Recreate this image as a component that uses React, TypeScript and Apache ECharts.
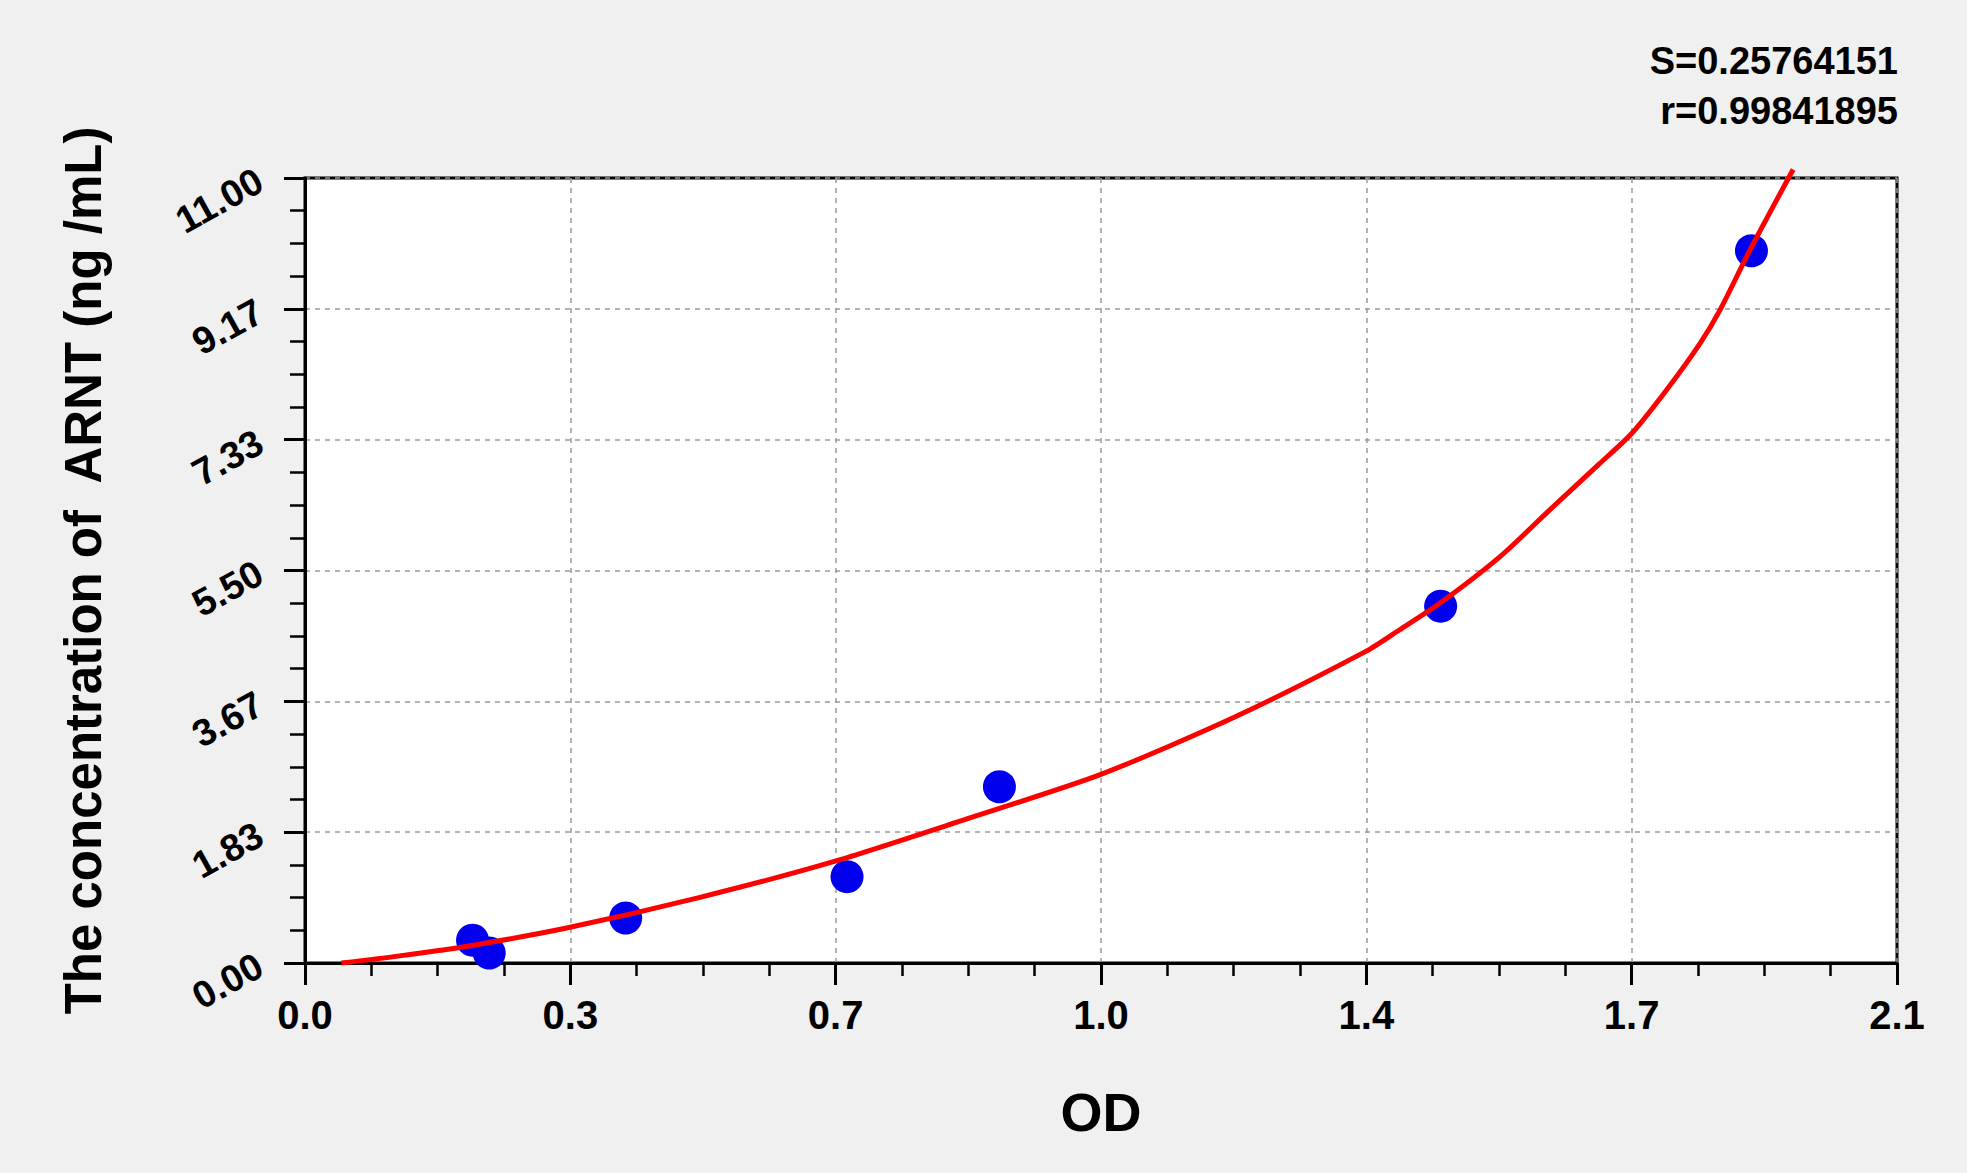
import { useEffect, useRef } from "react";
import * as echarts from "echarts";

// standard points (OD, concentration)
const pointOD = [0.221, 0.243, 0.423, 0.715, 0.916, 1.498, 1.908];
const pointConc = [0.32, 0.14, 0.63, 1.21, 2.47, 5.0, 9.98];

// fitted curve
const curveOD = [0.048, 0.125, 0.222, 0.345, 0.521, 0.697, 0.873, 1.049, 1.225, 1.4, 1.444, 1.497, 1.576, 1.642, 1.708, 1.75, 1.796, 1.84, 1.867, 1.906, 1.963];
const curveConc = [0.0, 0.1, 0.25, 0.49, 0.92, 1.42, 2.02, 2.64, 3.44, 4.37, 4.67, 5.04, 5.69, 6.35, 7.0, 7.42, 8.03, 8.68, 9.16, 9.99, 11.12];

const xTickLabels = ["0.0", "0.3", "0.7", "1.0", "1.4", "1.7", "2.1"];
const yTickLabels = ["0.00", "1.83", "3.67", "5.50", "7.33", "9.17", "11.00"];

const statLines = ["S=0.25764151", "r=0.99841895"];

const X_MAX = 2.1;
const Y_MAX = 11;
const X_STEP = X_MAX / 6;
const Y_STEP = Y_MAX / 6;
const FONT = "'Liberation Sans', Arial, sans-serif";

export default function App() {
  const chartRef = useRef<HTMLDivElement>(null);

  useEffect(() => {
    if (!chartRef.current) return;
    const chart = echarts.init(chartRef.current, null, { renderer: "svg" });

    const axisBase = {
      axisLine: { show: true, lineStyle: { color: "#000", width: 3 } },
      splitLine: {
        show: true,
        lineStyle: { color: "#9a9a9a", width: 1.5, type: [5, 5] as number[] },
      },
    };

    chart.setOption({
      animation: false,
      backgroundColor: "#f0f0f0",
      textStyle: { fontFamily: FONT },
      grid: {
        left: 305,
        right: 70,
        top: 178,
        bottom: 210,
        show: true,
        backgroundColor: "#ffffff",
        borderColor: "#000",
        borderWidth: 3,
      },
      graphic: statLines.map((t, i) => ({
        type: "text",
        right: 69,
        top: 42 + i * 50,
        style: {
          text: t,
          fontSize: 38,
          fontWeight: "bold",
          fontFamily: FONT,
          fill: "#000",
        },
      })),
      xAxis: {
        ...axisBase,
        type: "value",
        min: 0,
        max: X_MAX,
        interval: X_STEP,
        name: "OD",
        nameLocation: "middle",
        nameGap: 122,
        nameTextStyle: { fontSize: 54, fontWeight: "bold", color: "#000", fontFamily: FONT },
        axisTick: { show: true, length: 22, lineStyle: { color: "#000", width: 3 } },
        minorTick: { show: true, splitNumber: 4, length: 13, lineStyle: { color: "#000", width: 2.5 } },
        axisLabel: {
          margin: 32,
          fontSize: 40,
          fontWeight: "bold",
          color: "#000",
          fontFamily: FONT,
          formatter: (v: number) => xTickLabels[Math.round(v / X_STEP)] ?? "",
        },
      },
      yAxis: {
        ...axisBase,
        type: "value",
        min: 0,
        max: Y_MAX,
        interval: Y_STEP,
        name: "The concentration of  ARNT (ng /mL)",
        nameLocation: "middle",
        nameGap: 196,
        nameTextStyle: { fontSize: 51, fontWeight: "bold", color: "#000", fontFamily: FONT },
        axisTick: { show: true, length: 21, lineStyle: { color: "#000", width: 3 } },
        minorTick: { show: true, splitNumber: 4, length: 15, lineStyle: { color: "#000", width: 2.5 } },
        axisLabel: {
          margin: 45,
          rotate: 29,
          fontSize: 38,
          fontWeight: "bold",
          color: "#000",
          fontFamily: FONT,
          formatter: (v: number) => yTickLabels[Math.round(v / Y_STEP)] ?? "",
        },
      },
      series: [
        {
          type: "scatter",
          data: pointOD.map((x, i) => [x, pointConc[i]]),
          symbol: "circle",
          symbolSize: 33,
          itemStyle: { color: "#0000ee", opacity: 1 },
          z: 2,
        },
        {
          type: "line",
          data: curveOD.map((x, i) => [x, curveConc[i]]),
          smooth: 0.25,
          symbol: "none",
          clip: false,
          lineStyle: { color: "#ff0000", width: 5 },
          z: 3,
        },
      ],
    });

    return () => {
      chart.dispose();
    };
  }, []);

  return (
    <div
      ref={chartRef}
      style={{ position: "fixed", left: 0, top: 0, width: 1967, height: 1173 }}
    />
  );
}
